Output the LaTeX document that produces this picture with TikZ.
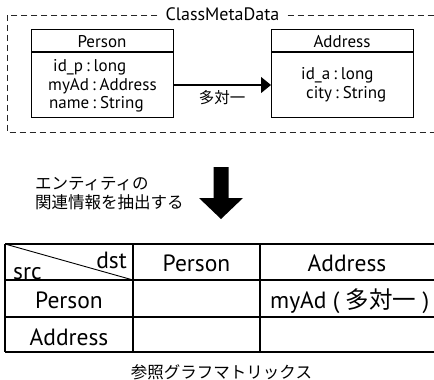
\documentclass[tikz,border=0pt]{standalone}
\usepackage{fontspec}
\setmainfont{PT Sans}
\newfontfamily\jp{Noto Sans CJK JP}
\usetikzlibrary{arrows.meta}

\newcommand{\colsep}{\hspace{3pt}:\hspace{4pt}}

\tikzset{
  frame/.style={draw=black!85, line width=0.9pt, dash pattern=on 6pt off 4pt},
  classbox/.style={draw, line width=1.1pt, inner sep=0pt},
  gridline/.style={draw, line width=1.1pt},
  txt/.style={inner sep=0pt, font=\fontsize{17}{19}\selectfont},
  cell/.style={inner sep=0pt, font=\fontsize{23.5}{26}\selectfont},
  jtxt/.style={inner sep=0pt, font=\jp\fontsize{16.5}{18.5}\selectfont},
  link/.style={line width=1.1pt, -{Triangle[length=10pt,width=16pt]}},
}

\begin{document}
\begin{tikzpicture}[x=1pt,y=-1pt]
\useasboundingbox (0,0) rectangle (434,380);

% ---- class metadata frame ----
\node[txt, font=\fontsize{18}{20}\selectfont, anchor=base, inner xsep=8pt] (cmd) at (222.5,20.7) {ClassMetaData};
\coordinate (ftop) at (0,15);
\draw[frame] (cmd.west |- ftop) -- (7,15) -- (7,132) -- (434,132);
\draw[frame] (cmd.east |- ftop) -- (434,15);

% ---- class boxes ----
\node[classbox, minimum width=142pt, minimum height=88pt, anchor=north west] (person) at (31,29) {};
\node[classbox, minimum width=142pt, minimum height=88pt, anchor=north west] (address) at (271,29) {};
\draw[line width=1.1pt] ([yshift=-23pt]person.north west) -- ([yshift=-23pt]person.north east);
\draw[line width=1.1pt] ([yshift=-23pt]address.north west) -- ([yshift=-23pt]address.north east);

\node[txt, anchor=base] (ptitle) at (102,47) {Person};
\node[txt, anchor=base] (atitle) at (342,47) {Address};

\node[txt, anchor=base west] (pf1) at (53,71) {id\_p\colsep long};
\node[txt, anchor=base west] (pf2) at (48,90) {myAd\colsep Address};
\node[txt, anchor=base west] (pf3) at (49,108.5) {name\colsep String};

\node[txt, anchor=base west] (af1) at (301,79) {id\_a\colsep long};
\node[txt, anchor=base west] (af2) at (306,98) {city\colsep String};

% ---- association ----
\coordinate (lnk) at (0,85);
\draw[link] (person.east |- lnk) -- (address.west |- lnk);
\node[jtxt, font=\jp\fontsize{15.5}{18}\selectfont, anchor=base] (mult) at (222,103.5) {多対一};

% ---- extraction step ----
\node[jtxt, anchor=base west] (step1) at (35,189.5) {エンティティの};
\node[jtxt, anchor=base west] (step2) at (35,208) {関連情報を抽出する};
\fill (213.5,167) -- (228.5,167) -- (228.5,198) -- (243,198) -- (221,219) -- (199,198) -- (213.5,198) -- cycle;

% ---- reference matrix ----
\foreach \y in {244,280,317,352} \draw[gridline] (5,\y) -- (434,\y);
\foreach \x in {5,133,260} \draw[gridline] (\x,244) -- (\x,352);
\draw[line width=0.9pt] (5,244) -- (133,280);

\node[cell, anchor=base east] (dst) at (127,268.3) {dst};
\node[cell, anchor=base west] (src) at (13,279) {src};
\node[cell, anchor=base] (hperson) at (196.5,271.5) {Person};
\node[cell, anchor=base] (haddress) at (347,271.5) {Address};
\node[cell, anchor=base] (rperson) at (69,308) {Person};
\node[cell, anchor=base] (raddress) at (69,345) {Address};
\node[cell, anchor=base west] (rel) at (270,308) {myAd ( {\jp 多対一} )};

\node[jtxt, anchor=base] (caption) at (221.5,378) {参照グラフマトリックス};
\end{tikzpicture}
\end{document}
